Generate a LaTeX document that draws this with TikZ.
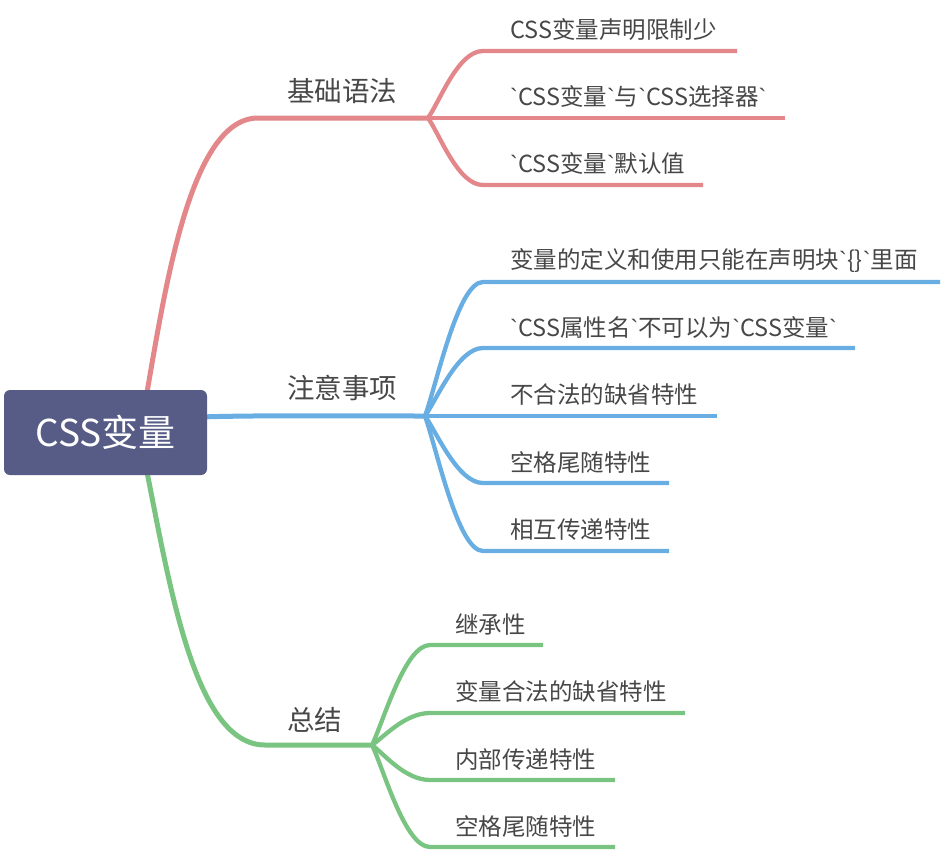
\documentclass[tikz,border=0pt]{standalone}
\usepackage{fontspec}
\newfontfamily\cjk{Noto Sans CJK SC}
\newfontfamily\latinf{Liberation Sans}
\newcommand\bq{{\latinf`}}
\definecolor{redc}{HTML}{E3878A}
\definecolor{bluec}{HTML}{68AEE2}
\definecolor{greenc}{HTML}{7AC482}
\definecolor{rootc}{HTML}{575C87}
\definecolor{txt}{HTML}{474747}
\begin{document}
\begin{tikzpicture}[x=1pt,y=-1pt,
  leaf/.style={anchor=base west, inner sep=0pt, font=\cjk\fontsize{23.5}{28}\selectfont, text=txt},
  mainlbl/.style={anchor=base west, inner sep=0pt, font=\cjk\fontsize{27.5}{32}\selectfont, text=txt},
  br/.style={line width=5pt},
  tw/.style={line width=4.3pt},
  rootbox/.style={fill=rootc, rounded corners=6pt, minimum width=203pt, minimum height=85pt, inner sep=0pt,
    font=\cjk\fontsize{37}{40}\selectfont, text=white}]
\useasboundingbox (0,0) rectangle (944,852);

% ---------- red branch ----------
\coordinate (rA) at (146,398);
\coordinate (rB) at (258,118);
\coordinate (rF) at (428,118);
\draw[br, redc] (rA) .. controls +(19,-108) and +(-68,0) .. (rB) -- (rF);
\coordinate (r1s) at (483,51);  \coordinate (r1e) at (737,51);
\coordinate (r2e) at (785,118);
\coordinate (r3s) at (483,185); \coordinate (r3e) at (703,185);
\draw[tw, redc] (rF) .. controls +(12,-17) and +(-25,0) .. (r1s) -- (r1e);
\draw[tw, redc] (rF) -- (r2e);
\draw[tw, redc] (rF) .. controls +(12,17) and +(-25,0) .. (r3s) -- (r3e);
\node[mainlbl] (rl) at (287,101.5) {基础语法};
\node[leaf] (r1) at (510,38) {CSS变量声明限制少};
\node[leaf] (r2) at (510,105) {\bq CSS变量\bq 与\bq CSS选择器\bq};
\node[leaf] (r3) at (510,172) {\bq CSS变量\bq 默认值};

% ---------- blue branch ----------
\coordinate (bA) at (200,417);
\coordinate (bF) at (425,416);
\draw[br, bluec] (bA) .. controls +(60,-2) and +(-60,0) .. (bF);
\coordinate (b1s) at (483,282); \coordinate (b1e) at (940,282);
\coordinate (b2s) at (483,348); \coordinate (b2e) at (855,348);
\coordinate (b3e) at (717,416);
\coordinate (b4s) at (483,483); \coordinate (b4e) at (669,483);
\coordinate (b5s) at (483,551); \coordinate (b5e) at (669,551);
\draw[tw, bluec] (bF) .. controls +(12,-33) and +(-25,0) .. (b1s) -- (b1e);
\draw[tw, bluec] (bF) .. controls +(12,-17) and +(-25,0) .. (b2s) -- (b2e);
\draw[tw, bluec] (bF) -- (b3e);
\draw[tw, bluec] (bF) .. controls +(12,17) and +(-25,0) .. (b4s) -- (b4e);
\draw[tw, bluec] (bF) .. controls +(12,34) and +(-25,0) .. (b5s) -- (b5e);
\node[mainlbl] (bl) at (287,398.5) {注意事项};
\node[leaf] (b1) at (510,268) {变量的定义和使用只能在声明块\bq\{\}\bq 里面};
\node[leaf] (b2) at (510,336) {\bq CSS属性名\bq 不可以为\bq CSS变量\bq};
\node[leaf] (b3) at (510,403) {不合法的缺省特性};
\node[leaf] (b4) at (510,471) {空格尾随特性};
\node[leaf] (b5) at (510,538) {相互传递特性};

% ---------- green branch ----------
\coordinate (gA) at (146,467);
\coordinate (gB) at (265,745);
\coordinate (gF) at (372,745);
\draw[br, greenc] (gA) .. controls +(24,120) and +(-70,0) .. (gB) -- (gF);
\coordinate (g1s) at (430,645); \coordinate (g1e) at (543,645);
\coordinate (g2s) at (430,713); \coordinate (g2e) at (685,713);
\coordinate (g3s) at (430,780); \coordinate (g3e) at (615,780);
\coordinate (g4s) at (430,847); \coordinate (g4e) at (615,847);
\draw[tw, greenc] (gF) .. controls +(12,-25) and +(-25,0) .. (g1s) -- (g1e);
\draw[tw, greenc] (gF) .. controls +(12,-8) and +(-25,0) .. (g2s) -- (g2e);
\draw[tw, greenc] (gF) .. controls +(12,9) and +(-25,0) .. (g3s) -- (g3e);
\draw[tw, greenc] (gF) .. controls +(12,25) and +(-25,0) .. (g4s) -- (g4e);
\node[mainlbl] (gl) at (287,730.5) {总结};
\node[leaf] (g1) at (455,633) {继承性};
\node[leaf] (g2) at (455,700) {变量合法的缺省特性};
\node[leaf] (g3) at (455,768) {内部传递特性};
\node[leaf] (g4) at (455,835) {空格尾随特性};

% ---------- root ----------
\node[rootbox] (root) at (105.5,432.5) {CSS变量};
\end{tikzpicture}
\end{document}
